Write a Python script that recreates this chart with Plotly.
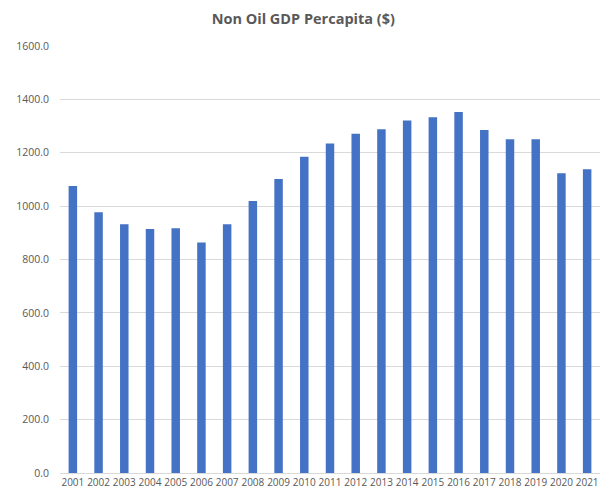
import plotly.graph_objects as go

years = [str(y) for y in range(2001, 2022)]
values = [1075, 977, 932, 914, 917, 864, 932, 1019, 1102, 1185, 1235,
          1271, 1288, 1321, 1333, 1353, 1285, 1251, 1251, 1123, 1138]
y_ticks = [0, 200, 400, 600, 800, 1000, 1200, 1400, 1600]
y_tick_labels = [f"{v:.1f}" for v in y_ticks]

fig = go.Figure(go.Bar(x=years, y=values, marker_color="#4472C4",
                       marker_line_width=0))

fig.update_layout(
    width=603, height=494,
    margin=dict(l=60, r=3, t=46, b=21),
    paper_bgcolor="white", plot_bgcolor="white",
    bargap=0.67,
    showlegend=False,
    title=dict(text="<b>Non Oil GDP Percapita ($)</b>", x=0.503, xanchor="center",
               y=0.962, yanchor="middle",
               font=dict(family="Open Sans", size=14.5, color="#595959")),
    font=dict(family="Open Sans", color="#595959"),
)
fig.update_xaxes(type="category", showgrid=False, showline=True,
                 linecolor="#D9D9D9", linewidth=1, ticks="",
                 tickfont=dict(size=10, color="#595959"), tickangle=0)
fig.update_yaxes(range=[0, 1600], tickvals=y_ticks, ticktext=y_tick_labels,
                 showgrid=True, gridcolor="#D9D9D9", gridwidth=1,
                 zeroline=False, ticks="", ticklabelstandoff=10,
                 tickfont=dict(size=10.5, color="#595959"))

fig.write_html("out.html", config={"displayModeBar": False},
               post_script="document.body.style.margin='0';document.body.style.overflow='hidden';")
